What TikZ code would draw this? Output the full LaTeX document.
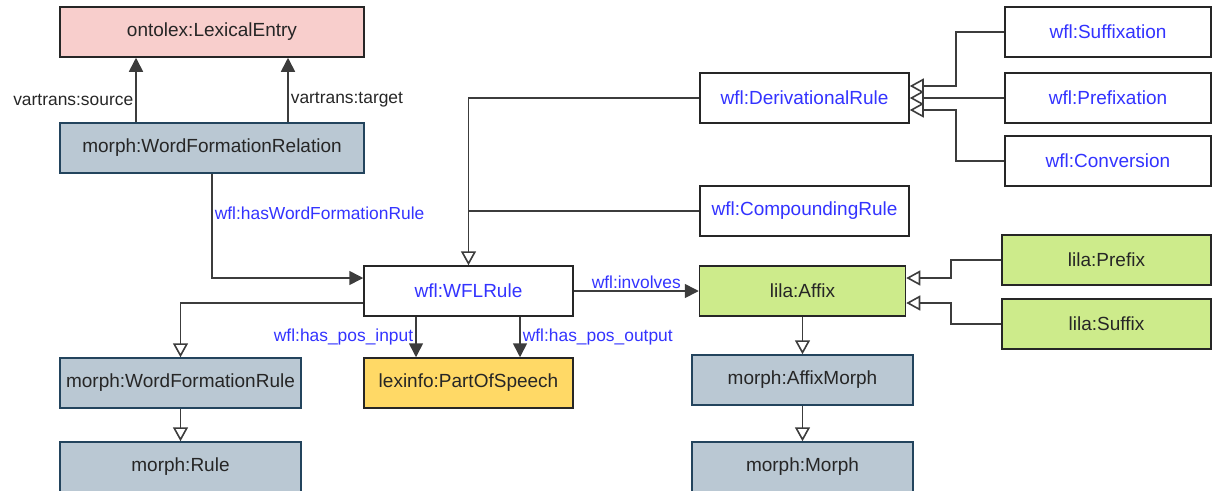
\documentclass[tikz,border=0pt]{standalone}
\usepackage{fontspec}
\setmainfont{Liberation Sans}
\usetikzlibrary{arrows.meta}
\definecolor{pinkfill}{HTML}{F8CECC}
\definecolor{bluegrey}{HTML}{BAC8D3}
\definecolor{bluegreyline}{HTML}{23445D}
\definecolor{yellowfill}{HTML}{FFD966}
\definecolor{greenfill}{HTML}{CDEB8B}
\definecolor{wflblue}{HTML}{3333FF}
\definecolor{txtgrey}{HTML}{262626}
\definecolor{linegrey}{HTML}{3C3C3C}
\tikzset{
  box/.style={draw=black!85, line width=1.5pt, inner sep=0pt, minimum height=50pt,
    text=txtgrey, font=\fontsize{19}{22}\selectfont},
  wflbox/.style={box, fill=white, text=wflblue},
  pinkbox/.style={box, fill=pinkfill},
  morphbox/.style={box, fill=bluegrey, draw=bluegreyline},
  yellowbox/.style={box, fill=yellowfill},
  greenbox/.style={box, fill=greenfill},
  conn/.style={draw=linegrey, line width=1.6pt},
  assoc/.style={conn, -{Triangle[length=14pt,width=14pt]}},
  inh/.style={conn, -{Triangle[open,length=14pt,width=15pt,fill=white]}},
  lbl/.style={font=\fontsize{17.4}{20}\selectfont, inner sep=2pt},
  wfllbl/.style={lbl, text=wflblue},
  greylbl/.style={lbl, text=txtgrey}
}
\begin{document}
\begin{tikzpicture}[x=1pt, y=-1pt]
\useasboundingbox (0,0) rectangle (1212,490);
% nodes
\node[pinkbox, minimum width=304pt] (LE) at (212,32) {ontolex:LexicalEntry};
\node[morphbox, minimum width=304pt] (WFRel) at (212,148) {morph:WordFormationRelation};
\node[wflbox, minimum width=209pt] (WFL) at (468.5,291) {wfl:WFLRule};
\node[yellowbox, minimum width=209pt] (PoS) at (468.5,383) {lexinfo:PartOfSpeech};
\node[morphbox, minimum width=241pt] (WFRule) at (180.5,383) {morph:WordFormationRule};
\node[morphbox, minimum width=241pt] (Rule) at (180.5,467) {morph:Rule};
\node[greenbox, minimum width=206pt] (Affix) at (802.5,291) {lila:Affix};
\node[morphbox, minimum width=221pt] (AffixMorph) at (802.5,380) {morph:AffixMorph};
\node[morphbox, minimum width=221pt] (Morph) at (802.5,467) {morph:Morph};
\node[wflbox, minimum width=209pt] (DR) at (804.5,98) {wfl:DerivationalRule};
\node[wflbox, minimum width=209pt] (CR) at (804.5,211) {wfl:CompoundingRule};
\node[wflbox, minimum width=206pt] (Suffixation) at (1108,32) {wfl:Suffixation};
\node[wflbox, minimum width=206pt] (Prefixation) at (1108,98) {wfl:Prefixation};
\node[wflbox, minimum width=206pt] (Conversion) at (1108,161) {wfl:Conversion};
\node[greenbox, minimum width=209pt] (Prefix) at (1106.5,260) {lila:Prefix};
\node[greenbox, minimum width=209pt] (Suffix) at (1106.5,324) {lila:Suffix};
% connectors
\draw[assoc] ([xshift=-76pt]WFRel.north) -- ([xshift=-76pt]LE.south)
  node[greylbl, pos=0.35, left] {vartrans:source};
\draw[assoc] ([xshift=76pt]WFRel.north) -- ([xshift=76pt]LE.south)
  node[greylbl, pos=0.35, right] {vartrans:target};
\draw[assoc] (WFRel.south) |- ([yshift=13pt]WFL.west)
  node[wfllbl, pos=0.19, right] {wfl:hasWordFormationRule};
\draw[inh] ([yshift=-12pt]WFL.west) -| (WFRule.north);
\draw[inh] (WFRule.south) -- (Rule.north);
\draw[assoc] ([xshift=-52.5pt]WFL.south) -- ([xshift=-52.5pt]PoS.north)
  node[wfllbl, pos=0.5, left] {wfl:has\_pos\_input};
\draw[assoc] ([xshift=51.5pt]WFL.south) -- ([xshift=51.5pt]PoS.north)
  node[wfllbl, pos=0.5, right] {wfl:has\_pos\_output};
\draw[assoc] (WFL.east) -- (Affix.west)
  node[wfllbl, pos=0.5, above] {wfl:involves};
\draw[inh] (Affix.south) -- (AffixMorph.north);
\draw[inh] (AffixMorph.south) -- (Morph.north);
\draw[inh] (Prefix.west) -- ++(-50,0) |- ([yshift=13pt]Affix.east);
\draw[inh] (Suffix.west) -- ++(-50,0) |- ([yshift=-12pt]Affix.east);
\draw[inh] (Suffixation.west) -- ++(-48,0) |- ([yshift=12pt]DR.east);
\draw[inh] (Prefixation.west) -- (DR.east);
\draw[inh] (Conversion.west) -- ++(-48,0) |- ([yshift=-12pt]DR.east);
\draw[inh] (DR.west) -| (WFL.north);
\draw[conn] (CR.west) -- (CR.west -| WFL.north);
\end{tikzpicture}
\end{document}
